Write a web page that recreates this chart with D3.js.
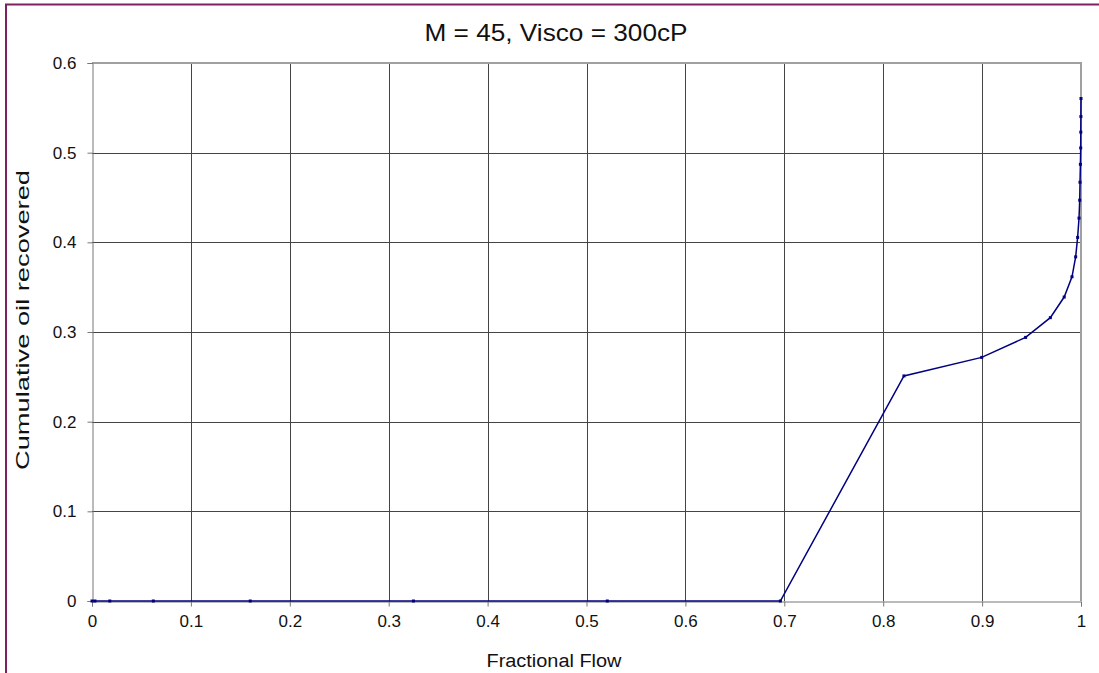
<!DOCTYPE html>
<html>
<head>
<meta charset="utf-8">
<script src="https://cdn.jsdelivr.net/npm/d3@7"></script>
<style>
  body { margin: 0; background: #fff; }
  svg { display: block; font-family: "Liberation Sans", Arial, sans-serif; }
</style>
</head>
<body>
<svg id="chart" width="1099" height="673"></svg>
<script>
const title = "M = 45, Visco = 300cP";
const xLabel = "Fractional Flow";
const yLabel = "Cumulative oil recovered";

// fractional flow vs cumulative oil recovered
const fracFlow = [0, 0.003, 0.018, 0.062, 0.160, 0.325, 0.521, 0.696,
    0.821, 0.8996, 0.944, 0.969, 0.983, 0.9909, 0.9946, 0.9966, 0.998,
    0.9987, 0.999, 0.9994, 0.9997, 0.9998, 0.9999, 1.0];
const oilRecovered = [0, 0, 0, 0, 0, 0, 0, 0,
    0.251, 0.2717, 0.294, 0.316, 0.339, 0.3616, 0.3838, 0.4055, 0.427,
    0.447, 0.467, 0.487, 0.5053, 0.5229, 0.5403, 0.5604];

const xTicks = [0, 0.1, 0.2, 0.3, 0.4, 0.5, 0.6, 0.7, 0.8, 0.9, 1];
const yTicks = [0, 0.1, 0.2, 0.3, 0.4, 0.5, 0.6];

const plot = { left: 92, right: 1081, top: 63, bottom: 601 };

const svg = d3.select('#chart');

// outer chart border (cropped at right/bottom)
svg.append('rect')
    .attr('x', 6).attr('y', 4.5)
    .attr('width', 1200).attr('height', 800)
    .attr('fill', '#fff')
    .attr('stroke', '#7f1f5f')
    .attr('stroke-width', 2);

const x = d3.scaleLinear().domain([0, 1]).range([plot.left, plot.right]);
const y = d3.scaleLinear().domain([0, 0.6]).range([plot.bottom, plot.top]);

// gridlines
svg.append('g').selectAll('line').data(xTicks.slice(1, -1)).enter()
    .append('line')
    .attr('x1', d => Math.round(x(d)) + 0.5).attr('x2', d => Math.round(x(d)) + 0.5)
    .attr('y1', plot.top).attr('y2', plot.bottom)
    .attr('stroke', '#444').attr('stroke-width', 1);
svg.append('g').selectAll('line').data(yTicks.slice(1, -1)).enter()
    .append('line')
    .attr('y1', d => Math.round(y(d)) + 0.5).attr('y2', d => Math.round(y(d)) + 0.5)
    .attr('x1', plot.left).attr('x2', plot.right)
    .attr('stroke', '#444').attr('stroke-width', 1);

// plot area frame (top / right)
svg.append('path')
    .attr('d', `M${plot.left},${plot.top} H${plot.right} V${plot.bottom}`)
    .attr('fill', 'none')
    .attr('stroke', '#a0a0a0')
    .attr('stroke-width', 2);

// axes
const fmt = d => d3.format('~g')(d);
const xAxis = d3.axisBottom(x).tickValues(xTicks).tickSize(5).tickPadding(8).tickFormat(fmt);
const yAxis = d3.axisLeft(y).tickValues(yTicks).tickSize(5).tickPadding(11).tickFormat(fmt);

const gx = svg.append('g')
    .attr('transform', `translate(0,${plot.bottom + 0.5})`)
    .call(xAxis);
const gy = svg.append('g')
    .attr('transform', `translate(${plot.left + 0.5},0)`)
    .call(yAxis);

[gx, gy].forEach(g => {
    g.attr('font-size', 17).attr('font-family', '"Liberation Sans", Arial, sans-serif');
    g.select('.domain').attr('stroke', '#777');
    g.selectAll('.tick line').attr('stroke', '#777');
    g.selectAll('.tick text').attr('fill', '#111');
});

// data line
const line = d3.line().x(d => x(d[0])).y(d => y(d[1]));
const points = fracFlow.map((f, i) => [f, oilRecovered[i]]);

svg.append('path')
    .datum(points)
    .attr('d', line)
    .attr('fill', 'none')
    .attr('stroke', '#000080')
    .attr('stroke-width', 1.5);

svg.append('g').selectAll('rect').data(points).enter()
    .append('rect')
    .attr('x', d => x(d[0]) - 1.5)
    .attr('y', d => y(d[1]) - 1.5)
    .attr('width', 3).attr('height', 3)
    .attr('fill', '#000080');

// titles
svg.append('text')
    .attr('x', 556).attr('y', 40.5)
    .attr('text-anchor', 'middle')
    .attr('textLength', 263).attr('lengthAdjust', 'spacingAndGlyphs')
    .style('font-size', '24px')
    .attr('fill', '#111')
    .text(title);

svg.append('text')
    .attr('x', 554).attr('y', 667)
    .attr('text-anchor', 'middle')
    .attr('textLength', 135).attr('lengthAdjust', 'spacingAndGlyphs')
    .style('font-size', '18px')
    .attr('fill', '#111')
    .text(xLabel);

svg.append('text')
    .attr('transform', `translate(29,320) rotate(-90)`)
    .attr('text-anchor', 'middle')
    .attr('textLength', 300).attr('lengthAdjust', 'spacingAndGlyphs')
    .style('font-size', '19px')
    .attr('fill', '#111')
    .text(yLabel);
</script>
</body>
</html>
